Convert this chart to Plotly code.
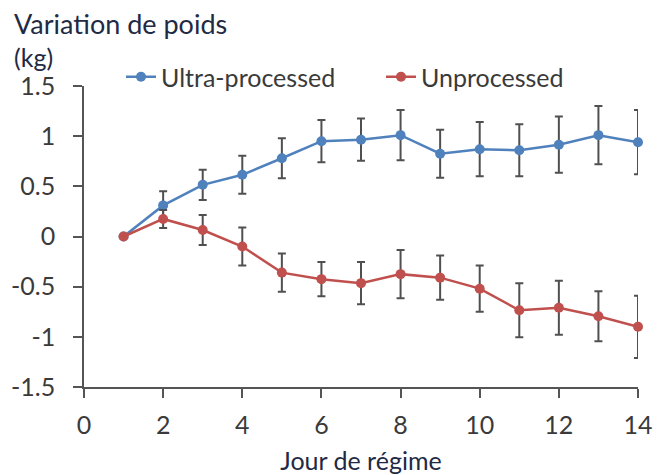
import plotly.graph_objects as go

days = list(range(1, 15))
ultra = [0, 0.31, 0.515, 0.615, 0.78, 0.95, 0.965, 1.01, 0.825, 0.87, 0.86, 0.915, 1.01, 0.94]
ultra_err = [0, 0.14, 0.15, 0.19, 0.20, 0.21, 0.21, 0.25, 0.24, 0.27, 0.26, 0.28, 0.29, 0.32]
unproc = [0, 0.175, 0.065, -0.10, -0.36, -0.425, -0.465, -0.375, -0.41, -0.52, -0.735, -0.71, -0.795, -0.90]
unproc_err = [0, 0.09, 0.15, 0.19, 0.19, 0.17, 0.21, 0.24, 0.22, 0.23, 0.27, 0.27, 0.25, 0.31]

FONT = "Lato"
FS = 25
W, H = 664, 475
ML, MR, MT, MB = 84, 26, 86, 88

fig = go.Figure()
for name, vals, errs, col in [("Ultra-processed", ultra, ultra_err, "#4F81BD"),
                              ("Unprocessed", unproc, unproc_err, "#C0504D")]:
    fig.add_trace(go.Scatter(
        x=days, y=vals, name=name, mode="lines+markers",
        line=dict(color=col, width=2.5),
        marker=dict(color=col, size=10),
        cliponaxis=False,
        error_y=dict(type="data", array=errs, visible=True,
                     color="#505050", thickness=2, width=4),
    ))

pw = W - ML - MR
ph = H - MT - MB
fig.update_layout(
    width=W, height=H,
    margin=dict(l=ML, r=MR, t=MT, b=MB, autoexpand=False),
    paper_bgcolor="white", plot_bgcolor="white",
    font=dict(family=FONT, size=FS, color="#3a3a3a"),
    showlegend=True,
    legend=dict(orientation="h", x=(121 - ML) / pw, xanchor="left",
                y=(H - MB - 77) / ph, yanchor="middle",
                yref="paper", entrywidth=215,
                font=dict(family=FONT, size=FS, color="#3a3a3a"),
                bgcolor="rgba(0,0,0,0)", itemwidth=30, tracegroupgap=0),
    xaxis=dict(range=[0, 14], tickvals=[0, 2, 4, 6, 8, 10, 12, 14],
               showgrid=False, zeroline=False, showline=True, automargin=False,
               linecolor="#555555", linewidth=1.5,
               ticks="outside", ticklen=9, tickwidth=1.5, tickcolor="#555555",
               ticklabelstandoff=6,
               title=dict(text="Jour de régime", standoff=17,
                          font=dict(family=FONT, size=FS, color="#1f2a44"))),
    yaxis=dict(range=[-1.5, 1.5], tickvals=[-1.5, -1, -0.5, 0, 0.5, 1, 1.5],
               ticktext=["-1.5", "-1", "-0.5", "0", "0.5", "1", "1.5"],
               showgrid=False, zeroline=False, showline=True, automargin=False,
               linecolor="#555555", linewidth=1.5,
               ticks="outside", ticklen=9, tickwidth=1.5, tickcolor="#555555",
               ticklabelstandoff=13),
)

fig.add_annotation(text="Variation de poids", xref="paper", yref="paper",
                   x=(12 - ML) / pw, y=(H - MB - 23) / ph,
                   xanchor="left", yanchor="middle", showarrow=False,
                   font=dict(family=FONT, size=27, color="#1f2a44"))
fig.add_annotation(text="(kg)", xref="paper", yref="paper",
                   x=(12 - ML) / pw, y=(H - MB - 57) / ph,
                   xanchor="left", yanchor="middle", showarrow=False,
                   font=dict(family=FONT, size=25, color="#1f2a44"))

fig.write_html("out.html")
